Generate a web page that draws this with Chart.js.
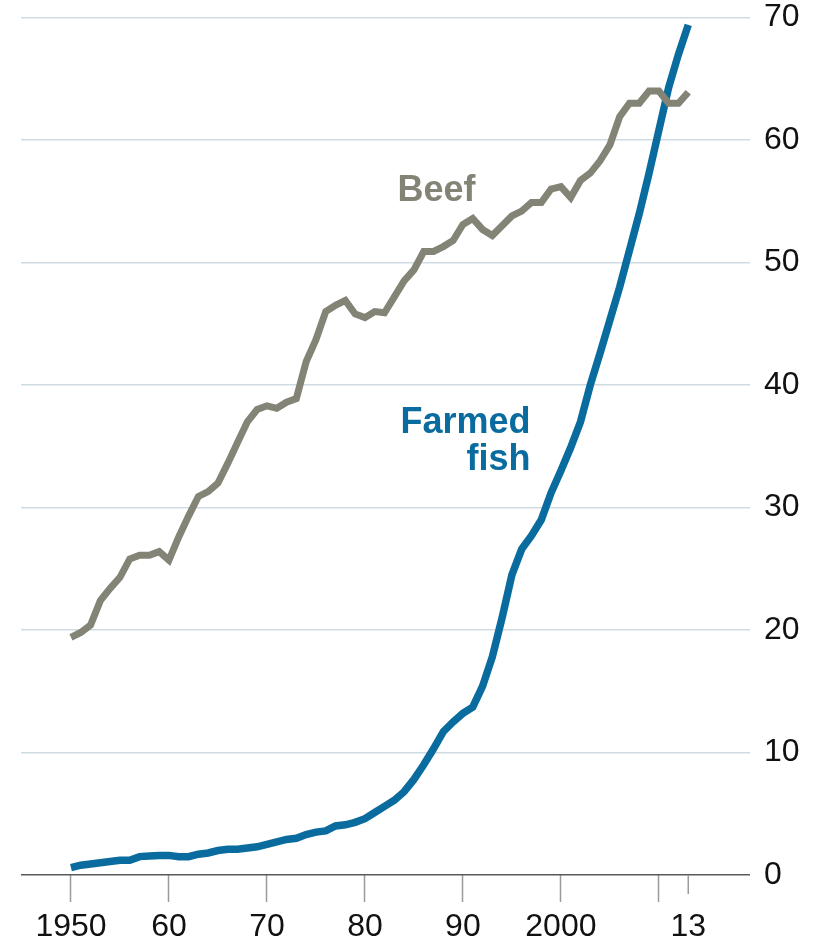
<!DOCTYPE html>
<html>
<head>
<meta charset="utf-8">
<script src="https://cdn.jsdelivr.net/npm/chart.js@4/dist/chart.umd.min.js"></script>
<style>
  html, body { margin: 0; padding: 0; background: #fff; }
  #wrap { width: 814px; height: 943px; }
</style>
</head>
<body>
<div id="wrap"><canvas id="chart" width="814" height="943"></canvas></div>
<script>
// Data, one value per year from 1950 to 2013
const firstYear = 1950;

const beef = [
  19.4, 19.8, 20.4, 22.4, 23.4, 24.3, 25.8, 26.1, 26.1, 26.4,
  25.7, 27.6, 29.3, 30.9, 31.3, 32.0, 33.6, 35.3, 37.0, 38.0,
  38.3, 38.1, 38.6, 38.9, 41.9, 43.7, 46.0, 46.5, 46.9, 45.8,
  45.5, 46.0, 45.9, 47.2, 48.5, 49.4, 50.9, 50.9, 51.3, 51.8,
  53.1, 53.6, 52.7, 52.2, 53.0, 53.8, 54.2, 54.9, 54.9, 56.0,
  56.2, 55.3, 56.7, 57.3, 58.3, 59.6, 61.9, 63.0, 63.0, 64.0,
  64.0, 63.0, 63.0, 63.9
];

const farmedFish = [
  0.6, 0.8, 0.9, 1.0, 1.1, 1.2, 1.2, 1.5, 1.55, 1.6,
  1.6, 1.5, 1.5, 1.7, 1.8, 2.0, 2.1, 2.1, 2.2, 2.3,
  2.5, 2.7, 2.9, 3.0, 3.3, 3.5, 3.6, 4.0, 4.1, 4.3,
  4.6, 5.1, 5.6, 6.1, 6.8, 7.8, 9.0, 10.3, 11.7, 12.5,
  13.2, 13.7, 15.4, 17.8, 21.0, 24.5, 26.6, 27.7, 29.0, 31.2,
  33.0, 34.9, 37.0, 40.0, 42.6, 45.3, 48.0, 51.0, 54.0, 57.3,
  60.8, 64.3, 67.0, 69.4
];

const xTicks = [1950, 1960, 1970, 1980, 1990, 2000, 2010, 2013];
const xTickLabels = ['1950', '60', '70', '80', '90', '2000', '', '13'];
const yTicks = [0, 10, 20, 30, 40, 50, 60, 70];

const beefColor = '#838376';
const fishColor = '#0a6c9e';

const years = beef.map((_, i) => firstYear + i);
const toPoints = arr => arr.map((v, i) => ({ x: years[i], y: v }));

// Short tick for the last year, other ticks are drawn by the scale
const shortTick = {
  id: 'shortTick',
  afterDraw(chart) {
    const x = chart.scales.x;
    const ctx = chart.ctx;
    const px = x.getPixelForValue(2013);
    ctx.save();
    ctx.strokeStyle = '#9a9a9a';
    ctx.lineWidth = 1.5;
    ctx.beginPath();
    ctx.moveTo(px, x.top);
    ctx.lineTo(px, x.top + 19);
    ctx.stroke();
    ctx.restore();
  }
};

// Series labels placed in data coordinates
const seriesLabels = {
  id: 'seriesLabels',
  afterDatasetsDraw(chart) {
    const { ctx, scales: { x, y } } = chart;
    ctx.save();
    ctx.font = 'bold 36px "Liberation Sans Narrow", "Liberation Sans", sans-serif';
    ctx.textBaseline = 'middle';
    ctx.fillStyle = beefColor;
    ctx.textAlign = 'center';
    ctx.fillText('Beef', x.getPixelForValue(1987.3), y.getPixelForValue(55.8));
    ctx.fillStyle = fishColor;
    ctx.textAlign = 'right';
    ctx.fillText('Farmed', x.getPixelForValue(1996.9), y.getPixelForValue(36.9));
    ctx.fillText('fish', x.getPixelForValue(1996.9), y.getPixelForValue(33.9));
    ctx.restore();
  }
};

new Chart(document.getElementById('chart'), {
  type: 'line',
  data: {
    datasets: [
      {
        label: 'Beef',
        data: toPoints(beef),
        borderColor: beefColor,
        borderWidth: 7,
        pointRadius: 0,
        tension: 0,
        borderJoinStyle: 'miter'
      },
      {
        label: 'Farmed fish',
        data: toPoints(farmedFish),
        borderColor: fishColor,
        borderWidth: 7.5,
        pointRadius: 0,
        tension: 0,
        borderJoinStyle: 'miter'
      }
    ]
  },
  options: {
    responsive: false,
    animation: false,
    layout: { padding: { left: 21, top: 0, right: 0, bottom: 0 } },
    plugins: {
      legend: { display: false },
      tooltip: { enabled: false }
    },
    scales: {
      x: {
        type: 'linear',
        min: 1944.9,
        max: 2019.3,
        afterBuildTicks: scale => { scale.ticks = xTicks.map(v => ({ value: v })); },
        afterFit: scale => { scale.height = 68; },
        border: { display: false },
        grid: {
          drawOnChartArea: false,
          drawTicks: true,
          tickLength: 27,
          tickWidth: 1.5,
          tickColor: ctx => (ctx.tick && ctx.tick.value === 2013 ? 'rgba(0,0,0,0)' : '#9a9a9a')
        },
        ticks: {
          autoSkip: false,
          maxRotation: 0,
          padding: 6,
          color: '#111',
          font: { family: '"Liberation Sans", sans-serif', size: 32 },
          callback: value => xTickLabels[xTicks.indexOf(value)]
        }
      },
      y: {
        position: 'right',
        min: 0,
        max: 70,
        afterBuildTicks: scale => { scale.ticks = yTicks.map(v => ({ value: v })); },
        afterFit: scale => { scale.width = 64; },
        border: { display: false },
        grid: {
          drawTicks: false,
          lineWidth: 1.5,
          color: ctx => (ctx.tick && ctx.tick.value === 0 ? '#5a5a5a' : '#cfdbe3')
        },
        ticks: {
          padding: 14,
          color: '#111',
          // small line height keeps the top label from pushing the plot down
          font: { family: '"Liberation Sans", sans-serif', size: 32, lineHeight: 0.22 }
        }
      }
    }
  },
  plugins: [shortTick, seriesLabels]
});
</script>
</body>
</html>
